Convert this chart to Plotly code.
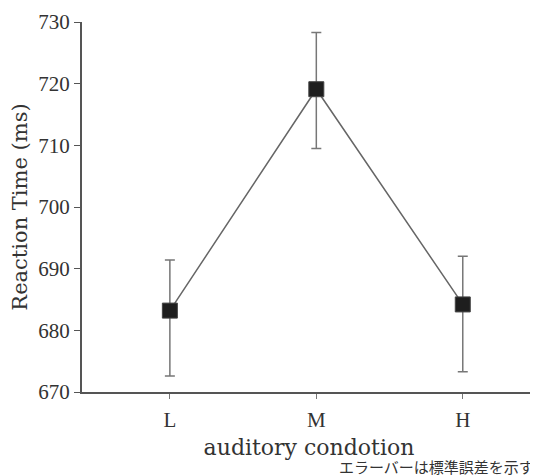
import plotly.graph_objects as go

conditions = ["L", "M", "H"]
reaction_time = [683.2, 719.1, 684.2]
error_minus = [10.6, 9.6, 10.9]
error_plus = [8.2, 9.2, 7.8]

y_ticks = [670, 680, 690, 700, 710, 720, 730]

fig = go.Figure()
fig.add_trace(go.Scatter(
    x=conditions,
    y=reaction_time,
    mode="lines+markers",
    line=dict(color="#666666", width=1.5),
    marker=dict(symbol="square", size=15, color="#1e1e1e",
                line=dict(color="#444444", width=1)),
    error_y=dict(type="data", symmetric=False, array=error_plus,
                 arrayminus=error_minus, color="#777777",
                 thickness=1.5, width=5),
    showlegend=False,
))

font_serif = "DejaVu Serif, Liberation Serif, serif"
font_ticks = "Liberation Serif, Times New Roman, serif"

fig.update_layout(
    width=530, height=468,
    margin=dict(l=74, r=2, t=11, b=84),
    paper_bgcolor="white", plot_bgcolor="white",
    font=dict(family=font_serif, color="#333333"),
    xaxis=dict(
        type="category",
        range=[-0.6, 2.5],
        showline=True, linecolor="#555555", linewidth=2,
        ticks="outside", ticklen=5, tickcolor="#777777", tickwidth=1,
        ticklabelstandoff=3,
        tickfont=dict(size=21, family=font_ticks, color="#333333"),
        showgrid=False, zeroline=False,
        title=dict(text="auditory condotion", standoff=8,
                   font=dict(size=22, family=font_serif, color="#333333")),
    ),
    yaxis=dict(
        range=[670, 730],
        tickvals=y_ticks,
        ticklabeloverflow="allow",
        showline=True, linecolor="#555555", linewidth=2,
        ticks="outside", ticklen=6, tickcolor="#555555", tickwidth=1,
        tickfont=dict(size=21, family=font_ticks, color="#333333"),
        showgrid=False, zeroline=False,
        title=dict(text="Reaction Time (ms)", standoff=10,
                   font=dict(size=21, family=font_serif, color="#333333")),
    ),
    annotations=[dict(
        text="エラーバーは標準誤差を示す",
        xref="paper", yref="paper", x=1.0, y=-0.201, xshift=0,
        xanchor="right", yanchor="middle", showarrow=False,
        font=dict(size=15, family="Noto Sans CJK JP", color="#333333"),
    )],
)

fig.write_html("out.html")
